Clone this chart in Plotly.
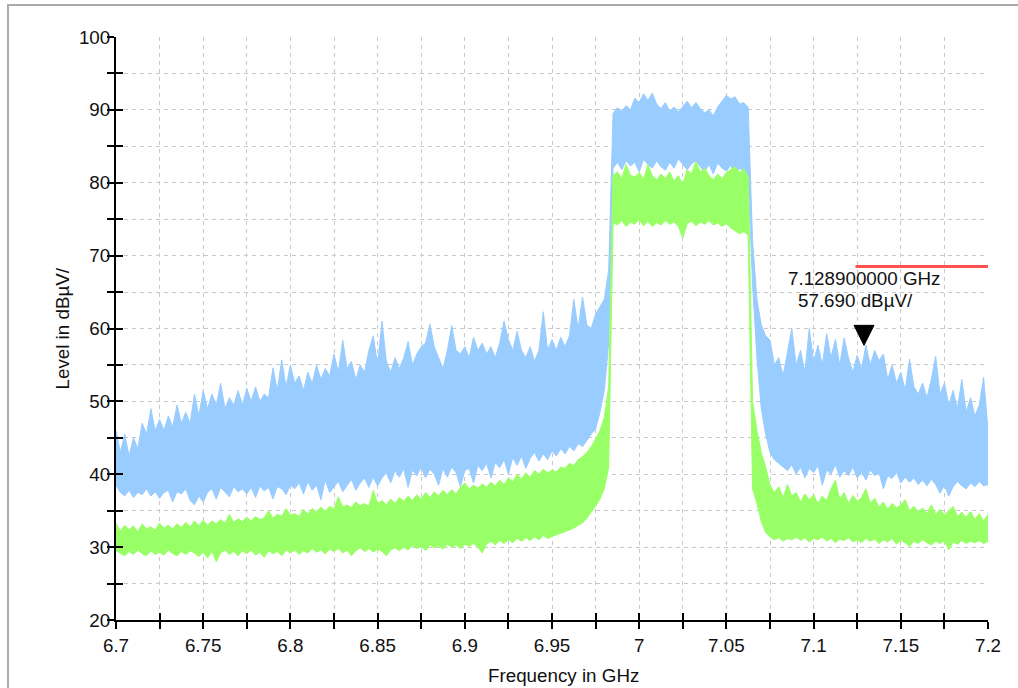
import plotly.graph_objects as go

# ---------------- data ----------------
freq_ghz = [
    6.7000, 6.7025, 6.7050, 6.7075, 6.7100, 6.7125, 6.7150, 6.7175, 6.7200, 6.7225,
    6.7250, 6.7275, 6.7300, 6.7325, 6.7350, 6.7375, 6.7400, 6.7425, 6.7450, 6.7475,
    6.7500, 6.7525, 6.7550, 6.7575, 6.7600, 6.7625, 6.7650, 6.7675, 6.7700, 6.7725,
    6.7750, 6.7775, 6.7800, 6.7825, 6.7850, 6.7875, 6.7900, 6.7925, 6.7950, 6.7975,
    6.8000, 6.8025, 6.8050, 6.8075, 6.8100, 6.8125, 6.8150, 6.8175, 6.8200, 6.8225,
    6.8250, 6.8275, 6.8300, 6.8325, 6.8350, 6.8375, 6.8400, 6.8425, 6.8450, 6.8475,
    6.8500, 6.8525, 6.8550, 6.8575, 6.8600, 6.8625, 6.8650, 6.8675, 6.8700, 6.8725,
    6.8750, 6.8775, 6.8800, 6.8825, 6.8850, 6.8875, 6.8900, 6.8925, 6.8950, 6.8975,
    6.9000, 6.9025, 6.9050, 6.9075, 6.9100, 6.9125, 6.9150, 6.9175, 6.9200, 6.9225,
    6.9250, 6.9275, 6.9300, 6.9325, 6.9350, 6.9375, 6.9400, 6.9425, 6.9450, 6.9475,
    6.9500, 6.9525, 6.9550, 6.9575, 6.9600, 6.9625, 6.9650, 6.9675, 6.9700, 6.9725,
    6.9750, 6.9775, 6.9800, 6.9825, 6.9850, 6.9875, 6.9900, 6.9925, 6.9950, 6.9975,
    7.0000, 7.0025, 7.0050, 7.0075, 7.0100, 7.0125, 7.0150, 7.0175, 7.0200, 7.0225,
    7.0250, 7.0275, 7.0300, 7.0325, 7.0350, 7.0375, 7.0400, 7.0425, 7.0450, 7.0475,
    7.0500, 7.0525, 7.0550, 7.0575, 7.0600, 7.0625, 7.0650, 7.0675, 7.0700, 7.0725,
    7.0750, 7.0775, 7.0800, 7.0825, 7.0850, 7.0875, 7.0900, 7.0925, 7.0950, 7.0975,
    7.1000, 7.1025, 7.1050, 7.1075, 7.1100, 7.1125, 7.1150, 7.1175, 7.1200, 7.1225,
    7.1250, 7.1275, 7.1300, 7.1325, 7.1350, 7.1375, 7.1400, 7.1425, 7.1450, 7.1475,
    7.1500, 7.1525, 7.1550, 7.1575, 7.1600, 7.1625, 7.1650, 7.1675, 7.1700, 7.1725,
    7.1750, 7.1775, 7.1800, 7.1825, 7.1850, 7.1875, 7.1900, 7.1925, 7.1950, 7.1975,
    7.2000,
]

# max-hold trace (light blue): upper and lower envelope of the noise band
blue_high = [
    46, 43, 45.5, 42.5, 45, 43.5, 47, 45.5, 49, 46,
    47.5, 46, 48, 46.5, 49.5, 47, 48.5, 47, 51, 48,
    51.5, 49, 51, 49.5, 52.5, 49, 50.5, 49.5, 51.5, 49.5,
    51.8, 50, 52, 50, 51, 50.5, 54.6, 51.5, 55.7, 52,
    55, 52.5, 53.5, 51.5, 54, 52.5, 55, 53, 54.5, 53.5,
    56.5, 54, 58.4, 54.5, 55.5, 53, 55, 54, 57, 59,
    55, 61, 55.5, 54, 56, 54.5, 56, 58.2, 55, 56.5,
    57.5, 58, 60.6, 57.5, 56, 54.5, 57, 60.4, 57, 56.5,
    57.5, 56, 58.8, 57, 58, 56.5, 57.5, 56, 58, 61,
    58.5, 57, 59.6, 57, 56, 57.5, 55.5, 57, 62.3, 57,
    58.5, 57, 58.8, 57.5, 59, 64, 60, 64.3, 60.5, 60,
    62, 63, 64, 68, 89.5, 90.3, 89.8, 90.6, 90, 91.6,
    91, 92.2, 91.3, 92.3, 90.8, 90.2, 91, 89.8, 90.4, 89.7,
    90.5, 91.2, 90.3, 91, 90.2, 89.6, 90, 89.2, 90.4, 91.2,
    92, 91.5, 91.8, 90.8, 91, 90.3, 72, 64, 60.5, 59,
    58.4, 55, 56, 53.5, 56.5, 60, 55, 57, 54, 60,
    55.5, 57.7, 55, 59.3, 56, 58.5, 55, 58.7, 56, 54,
    56.3, 54.5, 57.7, 55, 57, 55.6, 56.5, 53, 55, 52.5,
    54, 51.5, 55.8, 52, 51, 52.5, 50.5, 53, 56.2, 51,
    52.5, 49.5, 51.5, 49, 53, 48.5, 50.5, 48, 49.5, 53.3,
    46,
]
blue_low = [
    38.5, 37.5, 37, 37.8, 36.8, 37.5, 37.2, 38, 37, 37.6,
    36.7, 37.5, 37.8, 36.2, 37.6, 37.3, 38, 36.4, 35.8, 37,
    36.2, 37.5, 38, 36.6, 38.2, 37.5, 36.9, 38.3, 37.6, 38,
    37.3, 38.2, 36.8, 38.4, 37.7, 38.2, 36.6, 38.3, 38, 37.2,
    38.5, 38, 38.8, 37.3, 39, 37.8, 38.5, 36.5, 39.2, 37.5,
    38.2, 39, 37.6, 38.5, 39.3, 37.8, 38.8, 39.5, 38.2, 39.6,
    38.4, 39.5, 40.2, 38.8, 40.5, 39.6, 40.8, 38.2, 40.6, 39.8,
    41, 39.5, 40.7, 40, 38.5, 40.8, 39.6, 41, 40.2, 38.3,
    40.5, 40.8, 38.8, 41.2, 40.5, 41.5, 39.5, 41.6, 40.9, 42,
    40, 42.3, 41.2, 42.5, 40.8, 42.2, 43, 41.8, 42.8, 42,
    43.2, 42.5, 43.5, 42.8, 43.8, 43.2, 44.2, 43.8, 44.7, 45.5,
    46.2, 48.5, 51.5, 58, 82, 82.8, 81.8, 83, 82.3, 82.8,
    81.5, 83.2, 82.5, 82, 83, 82.2, 81.7, 82.8, 82, 83.3,
    82.5, 81.8, 82.6, 83, 82.2, 81.5, 82.5, 81.2, 82.7, 82,
    81.6, 82.4, 81, 82, 81.5, 81, 66, 56, 49, 45.5,
    43, 42, 41.5, 41, 40.5, 41.3, 40, 41, 39.5, 40.8,
    40.2, 41.2, 38.5, 40.6, 40, 41.3, 39.6, 40.5, 39.8, 41,
    39.5, 40.3, 39.2, 40.6, 39.8, 40.2, 38, 39.8, 39.4, 40.3,
    38.8, 39.6, 38.9, 39.5, 38.6, 39.2, 38.4, 39.3, 38.6, 37.4,
    38.5, 37, 38.3, 39, 38.4, 38, 38.8, 38.3, 39, 38.4,
    38.6,
]

# average trace (light green): upper and lower envelope of the noise band
green_high = [
    33.3, 32.2, 33, 32.4, 32.9, 32.1, 33.2, 32.5, 32.8, 32.3,
    33.3, 32.6, 33, 32.5, 33.2, 32.7, 33.4, 32.8, 33.6, 32.9,
    33.7, 33, 33.6, 33.2, 33.8, 33.3, 34.5, 33.4, 33.9, 33.5,
    34.1, 33.6, 34.2, 33.8, 34, 35, 34, 34.5, 34.2, 35.3,
    34.4, 34.6, 34.2, 35.2, 34.5, 35.3, 34.8, 35.5, 34.9, 35.6,
    35.2, 36.9, 35.5, 35.8, 35.4, 36.2, 35.7, 36, 35.6, 37.8,
    36, 36.4, 35.8, 36.6, 36, 36.8, 36.3, 37, 36.4, 37.2,
    36.6, 37.5, 36.8, 37.6, 37, 37.8, 37.2, 37.9, 37.3, 38.2,
    38.8, 38, 38.5, 38.1, 38.7, 38.2, 38.9, 38.4, 39.2, 38.6,
    39.5, 39, 40, 39.3, 40.2, 39.6, 40.5, 40, 40.7, 40.2,
    40.6, 40.3, 41, 40.8, 41.5, 41.2, 42, 42.4, 43, 43.8,
    44.8, 46, 47.8, 52, 81, 81.5, 80.6, 82.5, 81, 80.8,
    81.4, 80.5, 82.5, 81, 80.4, 81.2, 80.6, 81.5, 80.2, 81,
    79.8, 81.8, 81.2, 82.9, 81.5, 82, 81, 80.4, 81.2, 80.6,
    81.4, 81.8, 82.2, 81.4, 81.9, 80.8, 50, 46, 43, 41,
    38.5, 37.5, 38.3, 36.8, 38.6, 37, 37.5, 36.2, 37.3, 36.5,
    37.2, 36, 37, 36.4, 38, 39.2, 36.6, 37.5, 36, 37.1,
    36.3, 36.8, 38, 36, 36.7, 35.5, 36.2, 35.2, 36, 35.4,
    35.8, 36.5, 35, 35.6, 34.8, 35.4, 34.6, 35.8, 34.5, 35.2,
    34.4, 35, 35.6, 34.2, 34.8, 34.1, 34.9, 33.8, 34.6, 33.6,
    34.5,
]
green_low = [
    29.5, 29.2, 28.8, 29.4, 29, 29.6, 29.1, 28.8, 29.5, 29,
    29.3, 28.9, 29.6, 29.1, 28.8, 29.4, 29, 29.5, 29.2, 28.7,
    29.3, 28.5, 29.4, 28, 29.2, 29.6, 29, 29.4, 28.8, 29.5,
    29.1, 29.6, 28.9, 29.3, 28.6, 29.5, 29.1, 29.4, 28.8, 29.6,
    29.2, 29.6, 29, 29.5, 29.2, 29.8, 29.3, 29.6, 29.1, 29.7,
    29.4, 29.8, 29.2, 29.6, 28.8, 29.5, 29.9, 29.4, 29.8, 29.3,
    29.7, 29.4, 28.8, 29.6, 29.9, 29.5, 30, 29.6, 30.2, 29.8,
    30.1, 29.5, 30.3, 29.9, 30.2, 29.7, 30.4, 30, 30.3, 29.8,
    30.4, 30.1, 30.5, 30, 29.2, 30.4, 30.8, 30.3, 30.9, 30.5,
    31, 30.6, 31.2, 30.8, 31.3, 30.9, 31.4, 31, 31.6, 31.2,
    31.5, 31.7, 31.9, 32.1, 32.4, 32.6, 33, 33.3, 34, 34.8,
    35.6, 36.6, 38, 41, 74.5, 74.2, 74.8, 74, 74.6, 74.3,
    74.9, 74.1, 74.7, 74, 74.5, 74.2, 74.8, 74.3, 74.6, 74,
    72.4, 74.4, 74.7, 74.1, 74.6, 74.3, 74.8, 74.2, 74.5, 74,
    74.4, 73.8, 73.4, 73, 73.3, 72.8, 38, 36, 33.5, 32,
    31.4, 31, 31.3, 30.8, 31.2, 31, 31.4, 30.9, 31.3, 30.7,
    31.2, 31, 31.4, 30.8, 31.2, 30.6, 31.1, 30.9, 31.3, 30.7,
    31, 30.6, 31.2, 30.8, 31.1, 30.5, 31, 30.7, 31.2, 30.4,
    30.9, 30.6, 30.1, 30.8, 30.5, 31, 30.6, 30.3, 30.8, 30.5,
    30.9, 29.6, 30.7, 30.4, 30.9, 30.5, 30.8, 30.6, 30.9, 30.5,
    30.8,
]

# limit line and marker
limit_freq = [7.124, 7.2]
limit_level = [68.5, 68.5]
marker_freq = 7.1289
marker_level = 57.69

# axis ticks
x_tick_vals = [6.7, 6.725, 6.75, 6.775, 6.8, 6.825, 6.85, 6.875, 6.9, 6.925, 6.95,
               6.975, 7.0, 7.025, 7.05, 7.075, 7.1, 7.125, 7.15, 7.175, 7.2]
x_tick_text = ["6.7", "", "6.75", "", "6.8", "", "6.85", "", "6.9", "", "6.95",
               "", "7", "", "7.05", "", "7.1", "", "7.15", "", "7.2"]
y_tick_vals = [20, 25, 30, 35, 40, 45, 50, 55, 60, 65, 70, 75, 80, 85, 90, 95, 100]
y_tick_text = ["20", "", "30", "", "40", "", "50", "", "60", "", "70", "", "80", "",
               "90", "", "100"]

# ---------------- styling ----------------
BLUE = "#99ccff"
GREEN = "#99ff66"
RED = "#ff5050"
FONT = "Liberation Sans, Arial, sans-serif"
FS = 18.8
W, H = 1018, 688
ML, MR, MT, MB = 116, 30, 37, 68
PW, PH = W - ML - MR, H - MT - MB
X_RANGE = [6.7, 7.2]
Y_RANGE = [20, 100]

fig = go.Figure()
for lo, hi, col in [(blue_low, blue_high, BLUE), (green_low, green_high, GREEN)]:
    fig.add_trace(go.Scatter(x=freq_ghz, y=lo, mode="lines",
                             line=dict(color=col, width=1), hoverinfo="skip",
                             showlegend=False))
    fig.add_trace(go.Scatter(x=freq_ghz, y=hi, mode="lines",
                             line=dict(color=col, width=1), fill="tonexty",
                             fillcolor=col, hoverinfo="skip", showlegend=False))

fig.add_trace(go.Scatter(x=limit_freq, y=limit_level, mode="lines",
                         line=dict(color=RED, width=3), xaxis="x2", yaxis="y2",
                         hoverinfo="skip", showlegend=False))

# marker triangle (tip at the marker value, 20 px wide and tall)
px_per_ghz = PW / (X_RANGE[1] - X_RANGE[0])
px_per_db = PH / (Y_RANGE[1] - Y_RANGE[0])
hw = 10 / px_per_ghz
th = 20 / px_per_db
tri = (f"M {marker_freq - hw},{marker_level + th} L {marker_freq + hw},{marker_level + th} "
       f"L {marker_freq},{marker_level} Z")

grid = dict(showgrid=True, gridcolor="#c8c8c8", griddash="4px,4px", gridwidth=1)
tickfont = dict(family=FONT, size=FS, color="#111111")

fig.update_layout(
    width=W, height=H,
    margin=dict(l=ML, r=MR, t=MT, b=MB),
    paper_bgcolor="white", plot_bgcolor="white",
    showlegend=False,
    xaxis=dict(range=X_RANGE, tickmode="array", tickvals=x_tick_vals, ticktext=x_tick_text,
               ticks="outside", ticklen=7, tickwidth=2, tickcolor="black",
               showline=True, linecolor="black", linewidth=2, zeroline=False,
               tickfont=tickfont, ticklabelstandoff=0, **grid),
    yaxis=dict(range=Y_RANGE, tickmode="array", tickvals=y_tick_vals, ticktext=y_tick_text,
               ticks="outside", ticklen=7, tickwidth=2, tickcolor="black",
               showline=True, linecolor="black", linewidth=2, zeroline=False,
               tickfont=tickfont, ticklabelstandoff=-7, **grid),
    xaxis2=dict(range=X_RANGE, overlaying="x", anchor="y", side="bottom",
                tickmode="array", tickvals=x_tick_vals, ticks="inside", ticklen=7,
                tickwidth=2, tickcolor="black", showticklabels=False,
                showgrid=False, showline=False, zeroline=False),
    yaxis2=dict(range=Y_RANGE, overlaying="y", anchor="x", side="left",
                tickmode="array", tickvals=y_tick_vals, ticks="inside", ticklen=7,
                tickwidth=2, tickcolor="black", showticklabels=False,
                showgrid=False, showline=False, zeroline=False),
    shapes=[
        dict(type="path", path=tri, xref="x", yref="y", fillcolor="black",
             line=dict(color="black", width=1)),
        # outer frame (top and left)
        dict(type="line", xref="paper", yref="paper",
             x0=(8 - ML) / PW, x1=(W - ML) / PW, y0=(H - MB - 5) / PH, y1=(H - MB - 5) / PH,
             line=dict(color="#aaaaaa", width=2)),
        dict(type="line", xref="paper", yref="paper",
             x0=(8 - ML) / PW, x1=(8 - ML) / PW, y0=(H - MB - 4) / PH, y1=(H - MB - H) / PH,
             line=dict(color="#aaaaaa", width=2)),
    ],
    annotations=[
        dict(x=marker_freq, y=marker_level, xref="x", yref="y", showarrow=False,
             text=f"{marker_freq:.9f} GHz", xanchor="center", yanchor="middle",
             yshift=67, font=dict(family=FONT, size=FS, color="#111111")),
        dict(x=marker_freq, y=marker_level, xref="x", yref="y", showarrow=False,
             text=f"{marker_level:.3f} dBµV/", xanchor="center", yanchor="middle",
             yshift=45, xshift=-9, font=dict(family=FONT, size=FS, color="#111111")),
        dict(x=(563 - ML) / PW, y=(H - MB - 675) / PH, xref="paper", yref="paper",
             showarrow=False, text="Frequency in GHz", xanchor="center", yanchor="middle",
             font=dict(family=FONT, size=FS, color="#111111")),
        dict(x=(62 - ML) / PW, y=0.5, xref="paper", yref="paper", showarrow=False,
             text="Level in dBµV/", textangle=-90, xanchor="center", yanchor="middle",
             font=dict(family=FONT, size=FS, color="#111111")),
    ],
)

fig.write_html("out.html")
